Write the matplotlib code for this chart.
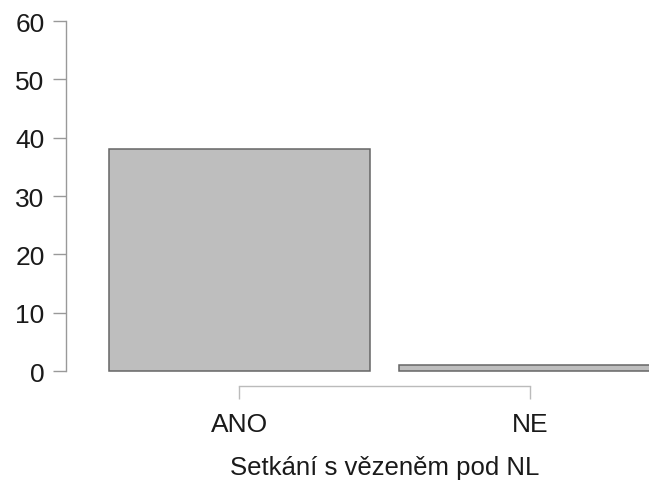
import matplotlib
matplotlib.use("Agg")
import matplotlib.pyplot as plt

categories = ["ANO", "NE"]
counts = [38, 1]
y_ticks = [0, 10, 20, 30, 40, 50, 60]
x_title = "Setkání s vězeněm pod NL"

plt.rcParams["font.family"] = ["Liberation Sans", "DejaVu Sans"]

fig = plt.figure(figsize=(6.49, 4.81), dpi=100)
ax = fig.add_axes([66 / 649, 94 / 481, 1 - 66 / 649, 372 / 481])

positions = list(range(len(categories)))
ax.bar(positions, counts, width=0.9, color="#bebebe", edgecolor="#666666",
       linewidth=1.1, align="center", zorder=2)

ax.set_xlim(-0.597, 1.41)
ax.set_ylim(-2.571, 61.2)

for side in ("top", "right"):
    ax.spines[side].set_visible(False)
ax.spines["left"].set_bounds(0, 60)
ax.spines["left"].set_color("#999999")
ax.spines["left"].set_linewidth(1.0)
ax.spines["bottom"].set_bounds(0, 1)
ax.spines["bottom"].set_color("#bbbbbb")
ax.spines["bottom"].set_linewidth(1.0)

ax.set_yticks(y_ticks)
ax.set_yticklabels([str(v) for v in y_ticks])
ax.set_xticks(positions)
ax.set_xticklabels(categories)

ax.tick_params(axis="y", length=9.4, width=1.0, color="#999999", pad=6,
               labelsize=19, labelcolor="#1a1a1a")
ax.tick_params(axis="x", length=9.4, width=1.0, color="#bbbbbb", pad=9,
               labelsize=19, labelcolor="#1a1a1a")

fig.text(385 / 649, 1 - 468 / 481, x_title, ha="center",
         va="center", fontsize=18.5, color="#1a1a1a")

fig.savefig("out.png", dpi=100)
